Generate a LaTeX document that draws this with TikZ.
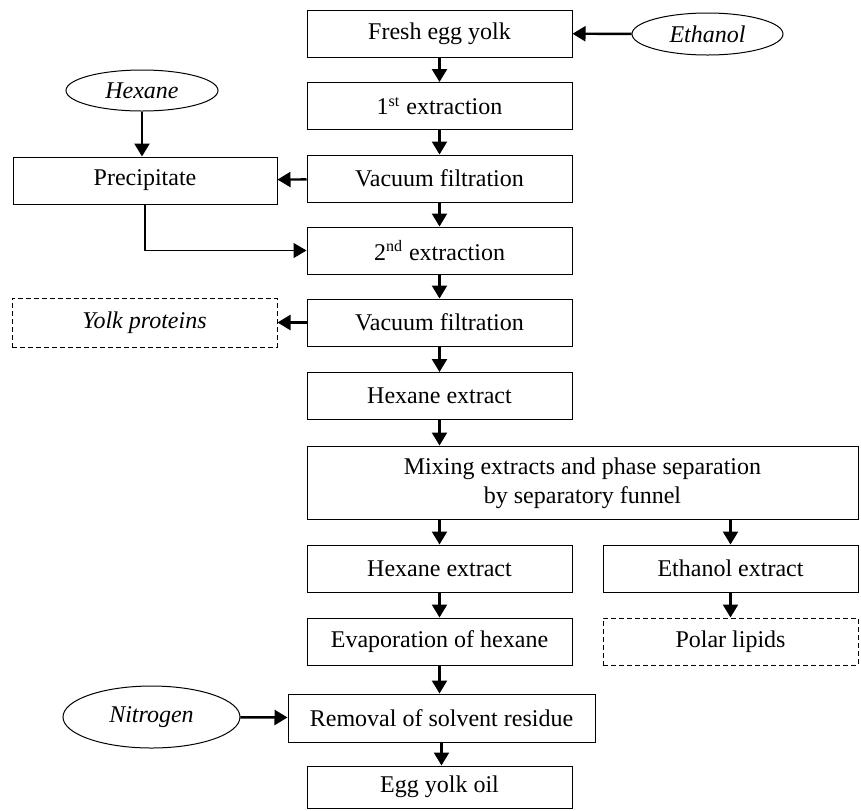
\documentclass[tikz,border=0pt]{standalone}
\usepackage{fontspec}
\setmainfont{Liberation Serif}
\usetikzlibrary{shapes.geometric,arrows.meta}

\tikzset{
  stepbox/.style={draw, line width=0.5pt, inner sep=0pt, minimum width=132.5pt, minimum height=23.5pt, font=\fontsize{12}{14.5}\selectfont},
  wastebox/.style={stepbox, dash pattern=on 2.5pt off 1.5pt, font=\fontsize{12}{14.5}\selectfont\itshape},
  solvent/.style={draw, ellipse, line width=0.5pt, inner sep=0pt, font=\fontsize{12}{14.5}\selectfont\itshape},
  flow/.style={-{Triangle[length=6.5pt,width=7.5pt]}, line width=1.2pt},
  feed/.style={-{Triangle[length=6.5pt,width=7.5pt]}, line width=0.6pt}
}

\begin{document}
\begin{tikzpicture}[x=0.5pt, y=-0.5pt]
    \useasboundingbox (0,0) rectangle (861,810);

    % Main column
    \node[stepbox] (fresh) at (439.5,33.5) {Fresh egg yolk};
    \node[stepbox] (ext1) at (439.5,106) {1\textsuperscript{st} extraction};
    \node[stepbox] (vac1) at (439.5,178.5) {Vacuum filtration};
    \node[stepbox] (ext2) at (439.5,250.5) {2\textsuperscript{nd} extraction};
    \node[stepbox] (vac2) at (439.5,322.5) {Vacuum filtration};
    \node[stepbox] (hex1) at (439.5,396) {Hexane extract};
    \node[stepbox, minimum width=275.5pt, minimum height=36.5pt, align=center, text depth=2pt] (mix) at (582.5,482.5) {Mixing extracts and phase separation\\by separatory funnel};
    \node[stepbox] (hex2) at (439.5,568.5) {Hexane extract};
    \node[stepbox] (evap) at (439.5,641.5) {Evaporation of hexane};
    \node[stepbox, minimum width=153.5pt, minimum height=24pt] (removal) at (441.5,718) {Removal of solvent residue};
    \node[stepbox, minimum height=21pt] (oil) at (439.5,787) {Egg yolk oil};

    % Side boxes
    \node[stepbox, minimum width=132pt] (precip) at (145,180.5) {Precipitate};
    \node[wastebox, minimum height=24.5pt] (yolk) at (144.5,322.5) {Yolk proteins};
    \node[stepbox, minimum width=127.5pt] (etx) at (730.5,568.5) {Ethanol extract};
    \node[wastebox, minimum width=127.5pt, font=\fontsize{12}{14.5}\selectfont] (polar) at (730.5,641.5) {Polar lipids};

    % Solvents
    \node[solvent, minimum width=75.5pt, minimum height=21pt] (ethanol) at (707.5,34) {Ethanol};
    \node[solvent, minimum width=76pt, minimum height=20.5pt] (hexane) at (142,90.5) {Hexane};
    \node[solvent, minimum width=88.5pt, minimum height=31pt] (nitrogen) at (151.5,717) {Nitrogen};

    % Arrows
    \foreach \a/\b in {fresh/ext1, ext1/vac1, vac1/ext2, ext2/vac2, vac2/hex1, hex1/mix, hex2/evap, etx/polar, evap/removal, removal/oil, hexane/precip} {
        \draw[flow] (\a.south) -- (\a.south |- \b.north);
    }
    \draw[flow] (hex2.north |- mix.south) -- (hex2.north);
    \draw[flow] (etx.north |- mix.south) -- (etx.north);
    \draw[flow] (ethanol) -- (fresh);
    \draw[flow] (vac1) -- (precip);
    \draw[flow] (vac2) -- (yolk);
    \draw[flow] (nitrogen) -- (removal);
    \draw[feed] (precip.south) |- (ext2.west);
\end{tikzpicture}
\end{document}
